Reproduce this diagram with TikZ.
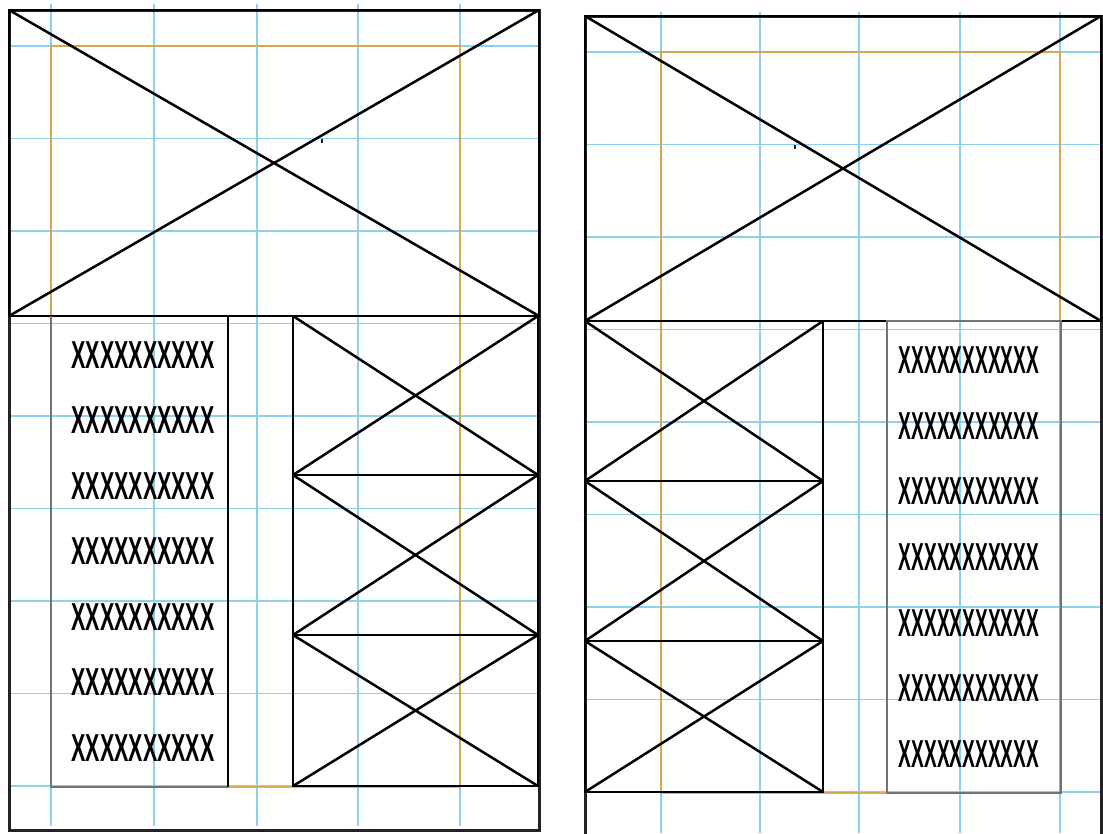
\documentclass[tikz,border=0pt]{standalone}
\usepackage{fontspec}
\setmainfont{Liberation Sans}
\definecolor{gridblue}{RGB}{140,208,236}
\definecolor{marginorange}{RGB}{228,160,50}
\definecolor{panelgray}{RGB}{34,34,34}
\tikzset{
  gridline/.style={gridblue, line width=1.5pt},
  marginline/.style={marginorange, line width=1.5pt, opacity=0.85},
  panelline/.style={panelgray, line width=3pt},
  imgline/.style={black, line width=2.5pt},
  textbox/.style={black!55, line width=1.6pt},
  xrow/.style={inner sep=0pt, font=\fontsize{39}{39}\selectfont}
}
\begin{document}
\begin{tikzpicture}[x=1pt, y=-1pt]
\useasboundingbox (0,0) rectangle (1103,833);
\clip (0,0) rectangle (1103,833);

% ===== Left Panel =====
% Grid
\foreach \gx in {51,154,257,358,460} \draw[gridline] (\gx,4) -- (\gx,826);
\foreach \gy in {46,138.5,231,323.5,416,508.5,601,693.5,786} \draw[gridline] (10,\gy) -- (539,\gy);
% Margin
\draw[marginline] (51,787) -- (51,46) -- (460,46) -- (460,787) -- cycle;
% Outer Frame
\draw[panelline] (9,10) rectangle (539,830);
% Hero Image
\draw[imgline] (9,10) rectangle (539,316);
\draw[imgline] (9,10) -- (539,316) (9,316) -- (539,10);
\fill[panelgray] (321,139) rectangle (323,143);
% Text Column
\draw[textbox] (228,787) -- (51,787) -- (51,316);
\draw[black, line width=1.3pt] (228,316) -- (228,787);
\foreach \i/\ty in {1/355,2/420.5,3/486,4/551.5,5/617,6/682.5,7/748}
  \node[xrow] (lrow\i) at (143,\ty) {\scalebox{0.55}[1]{\bfseries XXXXXXXXXX}};
% Image Stack
\draw[imgline] (293,316) rectangle (538,475);
\draw[imgline] (293,316) -- (538,475) (293,475) -- (538,316);
\draw[imgline] (293,475) rectangle (538,635);
\draw[imgline] (293,475) -- (538,635) (293,635) -- (538,475);
\draw[imgline] (293,635) rectangle (538,786);
\draw[imgline] (293,635) -- (538,786) (293,786) -- (538,635);

% ===== Right Panel =====
% Grid
\foreach \gx in {661,760,859,960,1060} \draw[gridline] (\gx,12) -- (\gx,833);
\foreach \gy in {52,144.5,237,329.5,422,514.5,607,699.5,792} \draw[gridline] (586,\gy) -- (1103,\gy);
% Margin
\draw[marginline] (661,793) -- (661,52) -- (1060,52) -- (1060,793) -- cycle;
% Outer Frame
\draw[panelline] (585,840) -- (585,16) -- (1101,16) -- (1101,840);
% Hero Image
\draw[imgline] (585,16) rectangle (1101,321);
\draw[imgline] (585,16) -- (1101,321) (585,321) -- (1101,16);
\fill[panelgray] (794,145) rectangle (796,149);
% Image Stack
\draw[imgline] (585,321) rectangle (823,481);
\draw[imgline] (585,321) -- (823,481) (585,481) -- (823,321);
\draw[imgline] (585,481) rectangle (823,641);
\draw[imgline] (585,481) -- (823,641) (585,641) -- (823,481);
\draw[imgline] (585,641) rectangle (823,792);
\draw[imgline] (585,641) -- (823,792) (585,792) -- (823,641);
% Text Column
\draw[textbox] (887,321) rectangle (1061,793);
\foreach \i/\ty in {1/360,2/426,3/491.5,4/557,5/623,6/688.5,7/754}
  \node[xrow] (rrow\i) at (969,\ty) {\scalebox{0.49}[1]{\bfseries XXXXXXXXXXX}};
\end{tikzpicture}
\end{document}
